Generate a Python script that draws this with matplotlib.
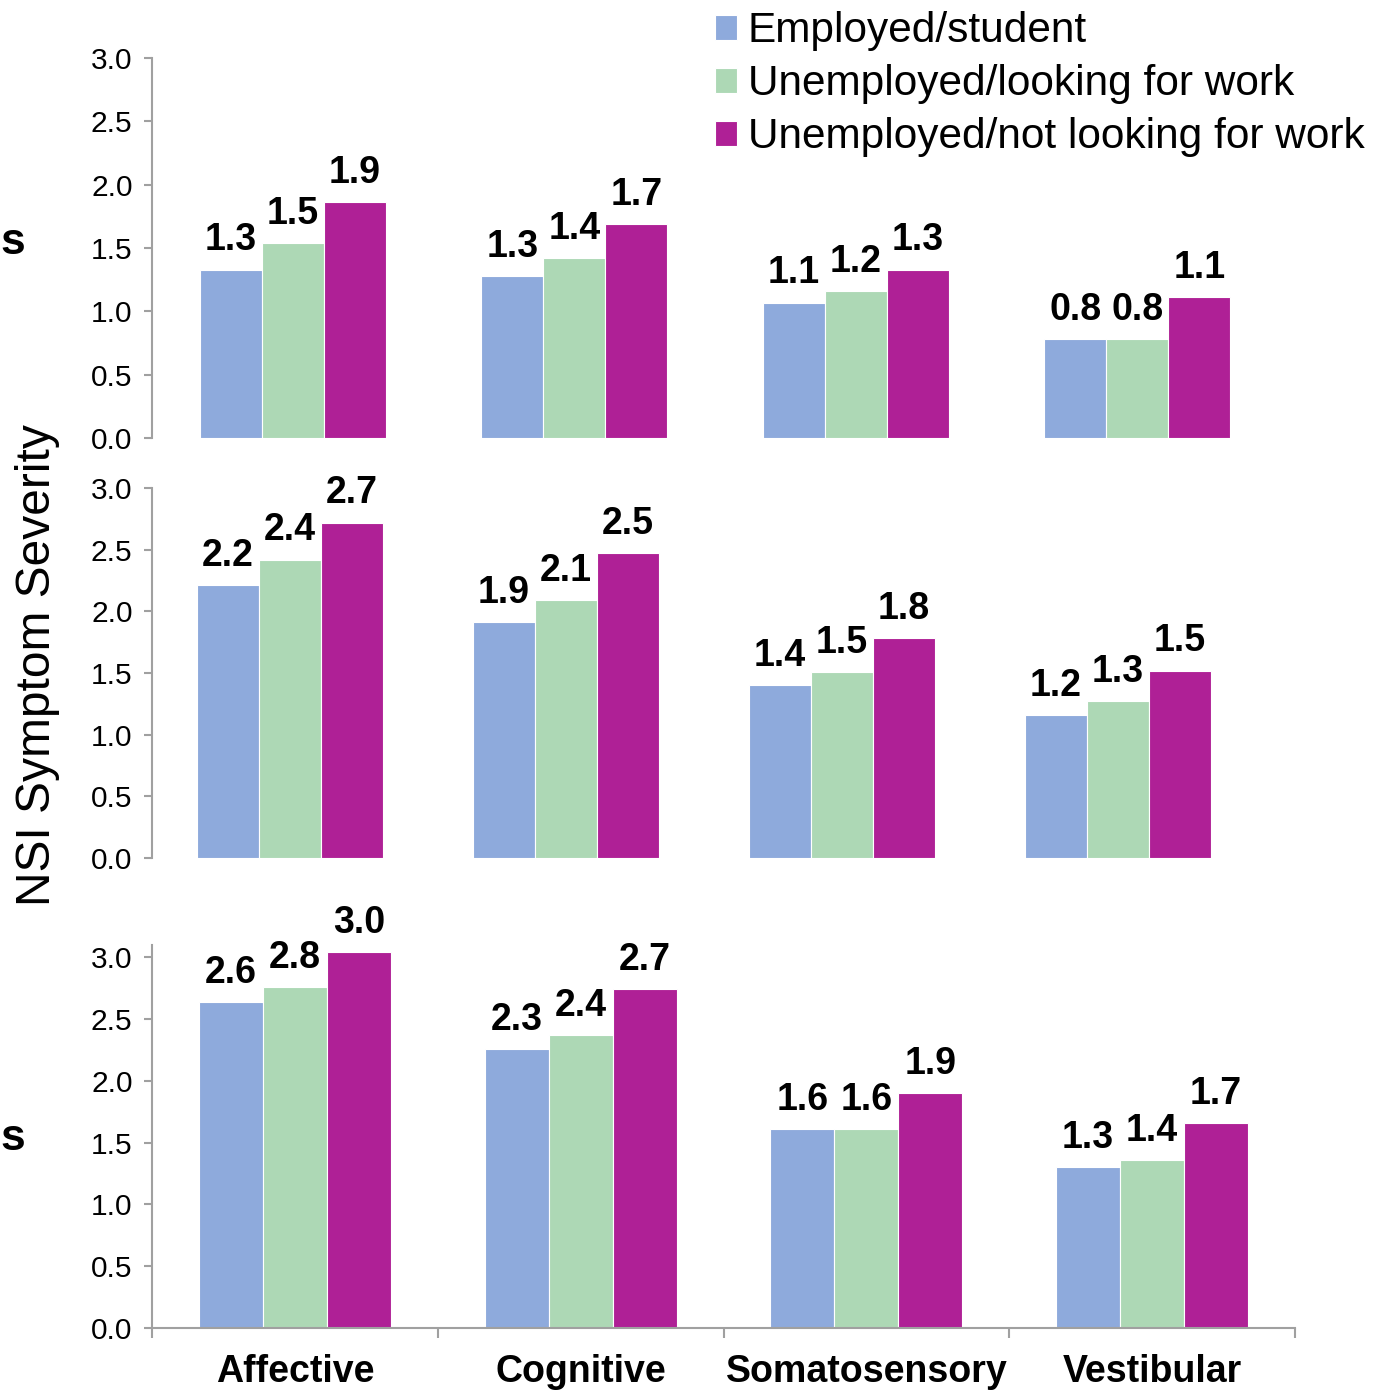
"""
NSI symptom severity by employment status, three stacked panels
"""
import matplotlib
matplotlib.use("Agg")
import matplotlib.pyplot as plt
import numpy as np

plt.rcParams['font.family'] = ['Liberation Sans', 'DejaVu Sans']

CATEGORIES = ["Affective", "Cognitive", "Somatosensory", "Vestibular"]
SERIES = ["Employed/student", "Unemployed/looking for work",
          "Unemployed/not looking for work"]
COLORS = ["#8EAADC", "#ADD8B5", "#AF2096"]

# values per panel: rows = series, columns = categories
TOP_EMPLOYED = [1.33, 1.28, 1.07, 0.78]
TOP_LOOKING = [1.54, 1.42, 1.16, 0.78]
TOP_NOT_LOOKING = [1.86, 1.69, 1.33, 1.11]

MID_EMPLOYED = [2.21, 1.91, 1.40, 1.16]
MID_LOOKING = [2.42, 2.09, 1.51, 1.27]
MID_NOT_LOOKING = [2.72, 2.47, 1.78, 1.52]

BOT_EMPLOYED = [2.64, 2.26, 1.61, 1.30]
BOT_LOOKING = [2.76, 2.37, 1.61, 1.36]
BOT_NOT_LOOKING = [3.04, 2.74, 1.90, 1.66]

Y_TICKS = [0.0, 0.5, 1.0, 1.5, 2.0, 2.5, 3.0]

GRAY = "#A0A0A0"
LABEL_FONT = ['Liberation Sans Narrow', 'Liberation Sans', 'DejaVu Sans']


def draw_panel(ax, series_values, bar_width, y_max, show_x):
    """ Draws one grouped bar panel with value labels above each bar. """
    x = np.arange(len(CATEGORIES))
    for i, values in enumerate(series_values):
        pos = x + (i - 1) * bar_width
        bars = ax.bar(pos, values, width=bar_width, color=COLORS[i],
                      edgecolor="white", linewidth=0.8, label=SERIES[i])
        for rect, val in zip(bars, values):
            ax.annotate(f"{val:.1f}", (rect.get_x() + rect.get_width() / 2, val),
                        xytext=(0, 8), textcoords="offset points",
                        ha="center", va="bottom", fontsize=27,
                        fontweight="bold", family=LABEL_FONT)
    ax.set_xlim(-0.5, len(CATEGORIES) - 0.5)
    ax.set_ylim(0, y_max)
    ax.set_yticks(Y_TICKS)
    ax.set_yticklabels([f"{t:.1f}" for t in Y_TICKS])
    ax.tick_params(axis="y", labelsize=21.5, length=6, width=1.5,
                   color=GRAY, pad=8)
    for side in ["top", "right"]:
        ax.spines[side].set_visible(False)
    ax.spines["left"].set_color(GRAY)
    ax.spines["left"].set_linewidth(1.5)
    if show_x:
        ax.spines["bottom"].set_color(GRAY)
        ax.spines["bottom"].set_linewidth(1.5)
        ax.set_xticks(np.arange(len(CATEGORIES) + 1) - 0.5)
        ax.set_xticklabels([])
        ax.tick_params(axis="x", which="major", length=7, width=1.5, color=GRAY)
        ax.set_xticks(x, minor=True)
        ax.set_xticklabels(CATEGORIES, minor=True, fontsize=27,
                           fontweight="bold")
        ax.tick_params(axis="x", which="minor", length=0, pad=19)
    else:
        ax.spines["bottom"].set_visible(False)
        ax.set_xticks([])


fig = plt.figure(figsize=[13.91, 13.92], dpi=100)

ax_top = fig.add_axes([0.1093, 0.6853, 0.8095, 0.2730])
draw_panel(ax_top, [TOP_EMPLOYED, TOP_LOOKING, TOP_NOT_LOOKING], 0.22, 3.0, False)

ax_mid = fig.add_axes([0.1093, 0.3836, 0.7937, 0.2658])
draw_panel(ax_mid, [MID_EMPLOYED, MID_LOOKING, MID_NOT_LOOKING], 0.225, 3.0, False)

ax_bot = fig.add_axes([0.1093, 0.0460, 0.8217, 0.2751])
draw_panel(ax_bot, [BOT_EMPLOYED, BOT_LOOKING, BOT_NOT_LOOKING], 0.224, 3.1, True)

fig.text(0.027, 0.522, "NSI Symptom Severity", rotation=90, ha="center",
         va="center", fontsize=34.5)

# row labels cut off at the left edge of the original
fig.text(0.0, 0.826, "s", ha="left", va="center", fontsize=32, fontweight="bold")
fig.text(0.0, 0.182, "s", ha="left", va="center", fontsize=32, fontweight="bold")

handles, labels = ax_top.get_legend_handles_labels()
fig.legend(handles, labels, loc="upper left", bbox_to_anchor=(0.5112, 0.995),
           frameon=False, fontsize=30.5, handlelength=0.52, handleheight=0.52,
           handletextpad=0.25, labelspacing=0.31, borderpad=0,
           borderaxespad=0.1)

plt.savefig("out.png", dpi=100)
plt.close()
